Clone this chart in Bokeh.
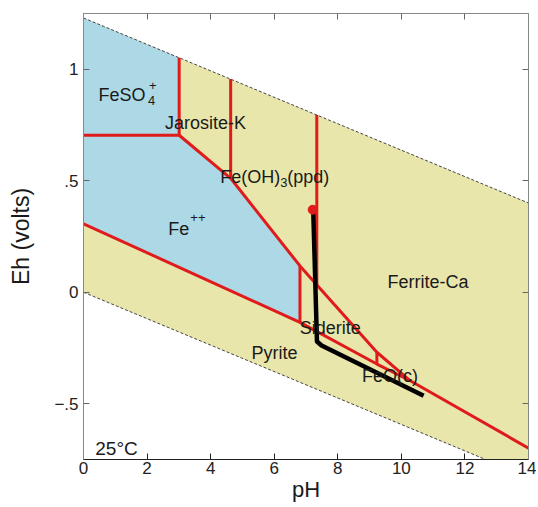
from bokeh.plotting import figure
from bokeh.models import Range1d, FixedTicker, LinearAxis, Label
from bokeh.core.properties import value
from bokeh.embed import file_html
from bokeh.resources import INLINE

# ---------------- data ----------------
# water stability field (dashed lines)
water_upper_ph = [0, 14]
water_upper_eh = [1.23, 0.40]
water_lower_ph = [0, 14]
water_lower_eh = [0.0, -0.83]
water_band_ph = [0, 14, 14, 0]
water_band_eh = [1.23, 0.40, -0.83, 0.0]

# aqueous (blue) field: FeSO4+ and Fe++
aqueous_ph = [0, 3.01, 3.01, 4.63, 6.81, 6.81, 0]
aqueous_eh = [1.23, 1.052, 0.704, 0.511, 0.118, -0.135, 0.307]

# red boundaries
feso4_fe_ph = [0, 3.01]
feso4_fe_eh = [0.704, 0.704]
jarosite_left_ph = [3.01, 3.01]
jarosite_left_eh = [0.704, 1.052]
jarosite_right_ph = [4.63, 4.63]
jarosite_right_eh = [0.511, 0.956]
ferrite_left_ph = [7.34, 7.34]
ferrite_left_eh = [0.033, 0.795]
feoh3_lower_ph = [3.01, 4.63, 6.81, 9.23, 10.28]
feoh3_lower_eh = [0.704, 0.511, 0.118, -0.269, -0.397]
siderite_left_ph = [6.81, 6.81]
siderite_left_eh = [0.118, -0.135]
feo_left_ph = [9.23, 9.23]
feo_left_eh = [-0.269, -0.322]
pyrite_upper_ph = [0, 6.81, 9.23, 10.28, 14]
pyrite_upper_eh = [0.307, -0.135, -0.322, -0.397, -0.699]

# black reaction path and its starting point
path_ph = [7.23, 7.345, 7.49, 10.70]
path_eh = [0.355, -0.221, -0.239, -0.464]
start_ph = [7.21]
start_eh = [0.370]

# field labels
main_labels = ["Jarosite-K", "Ferrite-Ca", "Siderite", "Pyrite", "FeO(c)"]
main_label_ph = [3.84, 10.84, 7.76, 6.01, 9.64]
main_label_eh = [0.757, 0.045, -0.159, -0.271, -0.374]
left_labels = ["FeSO", "Fe", "Fe(OH)", "(ppd)"]
left_label_ph = [0.47, 2.67, 4.30, 6.41]
left_label_eh = [0.883, 0.285, 0.516, 0.516]
small_labels = ["4", "+", "++", "3"]
small_label_ph = [2.03, 2.06, 3.36, 6.19]
small_label_eh = [0.862, 0.925, 0.333, 0.494]

x_ticks = [0, 2, 4, 6, 8, 10, 12, 14]
y_ticks = [-0.5, 0, 0.5, 1]
y_tick_labels = {-0.5: "\u2212.5", 0: "0", 0.5: ".5", 1: "1"}

# ---------------- styling ----------------
FONT = "Liberation Sans"
RED = "#e01b1b"
BLUE = "#add8e6"
YELLOW = "#e8e6ab"

p = figure(width=536, height=506, output_backend="svg", toolbar_location=None,
           x_range=Range1d(0, 14), y_range=Range1d(-0.75, 1.25),
           min_border_left=83, min_border_right=8, min_border_top=13, min_border_bottom=47,
           x_axis_label="pH", y_axis_label="Eh (volts)")
p.outline_line_color = None
p.xgrid.grid_line_color = None
p.ygrid.grid_line_color = None
p.background_fill_color = "white"

for ax, tk in ((p.xaxis[0], x_ticks), (p.yaxis[0], y_ticks)):
    ax.ticker = FixedTicker(ticks=tk)
    ax.major_tick_in = 6
    ax.major_tick_out = 0
    ax.minor_tick_line_color = None
    ax.major_label_text_font = FONT
    ax.major_label_text_font_size = "17px"
    ax.major_label_text_color = "#222222"
    ax.axis_label_text_font = FONT
    ax.axis_label_text_font_style = "normal"
    ax.axis_label_text_color = "#1a1a1a"
p.xaxis[0].major_label_standoff = 2
p.xaxis[0].axis_label_standoff = 0
p.xaxis[0].axis_label_text_font_size = "22px"
p.yaxis[0].major_label_standoff = 5
p.yaxis[0].axis_label_standoff = 17
p.yaxis[0].axis_label_text_font_size = "23px"
p.xaxis[0].axis_line_color = "#222222"
p.xaxis[0].major_tick_line_color = "#222222"
p.yaxis[0].axis_line_color = "#888888"
p.yaxis[0].major_tick_line_color = "#666666"
p.yaxis[0].major_label_overrides = y_tick_labels

top = LinearAxis(ticker=FixedTicker(ticks=x_ticks), major_label_text_font_size="1px",
                 major_label_text_color=None, major_label_standoff=0,
                 major_tick_in=6, major_tick_out=0,
                 minor_tick_line_color=None, axis_line_color="#888888",
                 major_tick_line_color="#666666")
right = LinearAxis(ticker=FixedTicker(ticks=y_ticks), major_label_text_font_size="1px",
                   major_label_text_color=None, major_label_standoff=0,
                   major_tick_in=6, major_tick_out=0,
                   minor_tick_line_color=None, axis_line_color="#888888",
                   major_tick_line_color="#666666")
p.add_layout(top, "above")
p.add_layout(right, "right")

# fields
p.patch(water_band_ph, water_band_eh, fill_color=YELLOW, line_color=None)
p.patch(aqueous_ph, aqueous_eh, fill_color=BLUE, line_color=None)

# water limits
p.line(water_upper_ph, water_upper_eh, line_color="#444444", line_width=1, line_dash="3 2")
p.line(water_lower_ph, water_lower_eh, line_color="#444444", line_width=1, line_dash="3 2")

# boundaries
for xs, ys in ((feso4_fe_ph, feso4_fe_eh), (jarosite_left_ph, jarosite_left_eh),
               (jarosite_right_ph, jarosite_right_eh), (ferrite_left_ph, ferrite_left_eh),
               (feoh3_lower_ph, feoh3_lower_eh), (siderite_left_ph, siderite_left_eh),
               (feo_left_ph, feo_left_eh), (pyrite_upper_ph, pyrite_upper_eh)):
    p.line(xs, ys, line_color=RED, line_width=3)

# reaction path
p.line(path_ph, path_eh, line_color="black", line_width=4.5, line_join="round")
p.scatter(start_ph, start_eh, size=9, color=RED)

# labels
p.text(main_label_ph, main_label_eh, text=main_labels, text_font=value(FONT),
       text_font_size="18px", text_align="center", text_baseline="alphabetic",
       text_color="#1a1a1a")
p.text(left_label_ph, left_label_eh, text=left_labels, text_font=value(FONT),
       text_font_size="18px", text_align="left", text_baseline="alphabetic",
       text_color="#1a1a1a")
p.text(small_label_ph, small_label_eh, text=small_labels, text_font=value(FONT),
       text_font_size="13px", text_align="left", text_baseline="alphabetic",
       text_color="#1a1a1a")

p.add_layout(Label(x=0.37, y=-0.702, text="25\u00b0C", text_font=FONT,
                   text_font_size="19px", text_color="#1a1a1a",
                   text_align="left", text_baseline="alphabetic"))

open("out.html", "w").write(file_html(p, INLINE))
